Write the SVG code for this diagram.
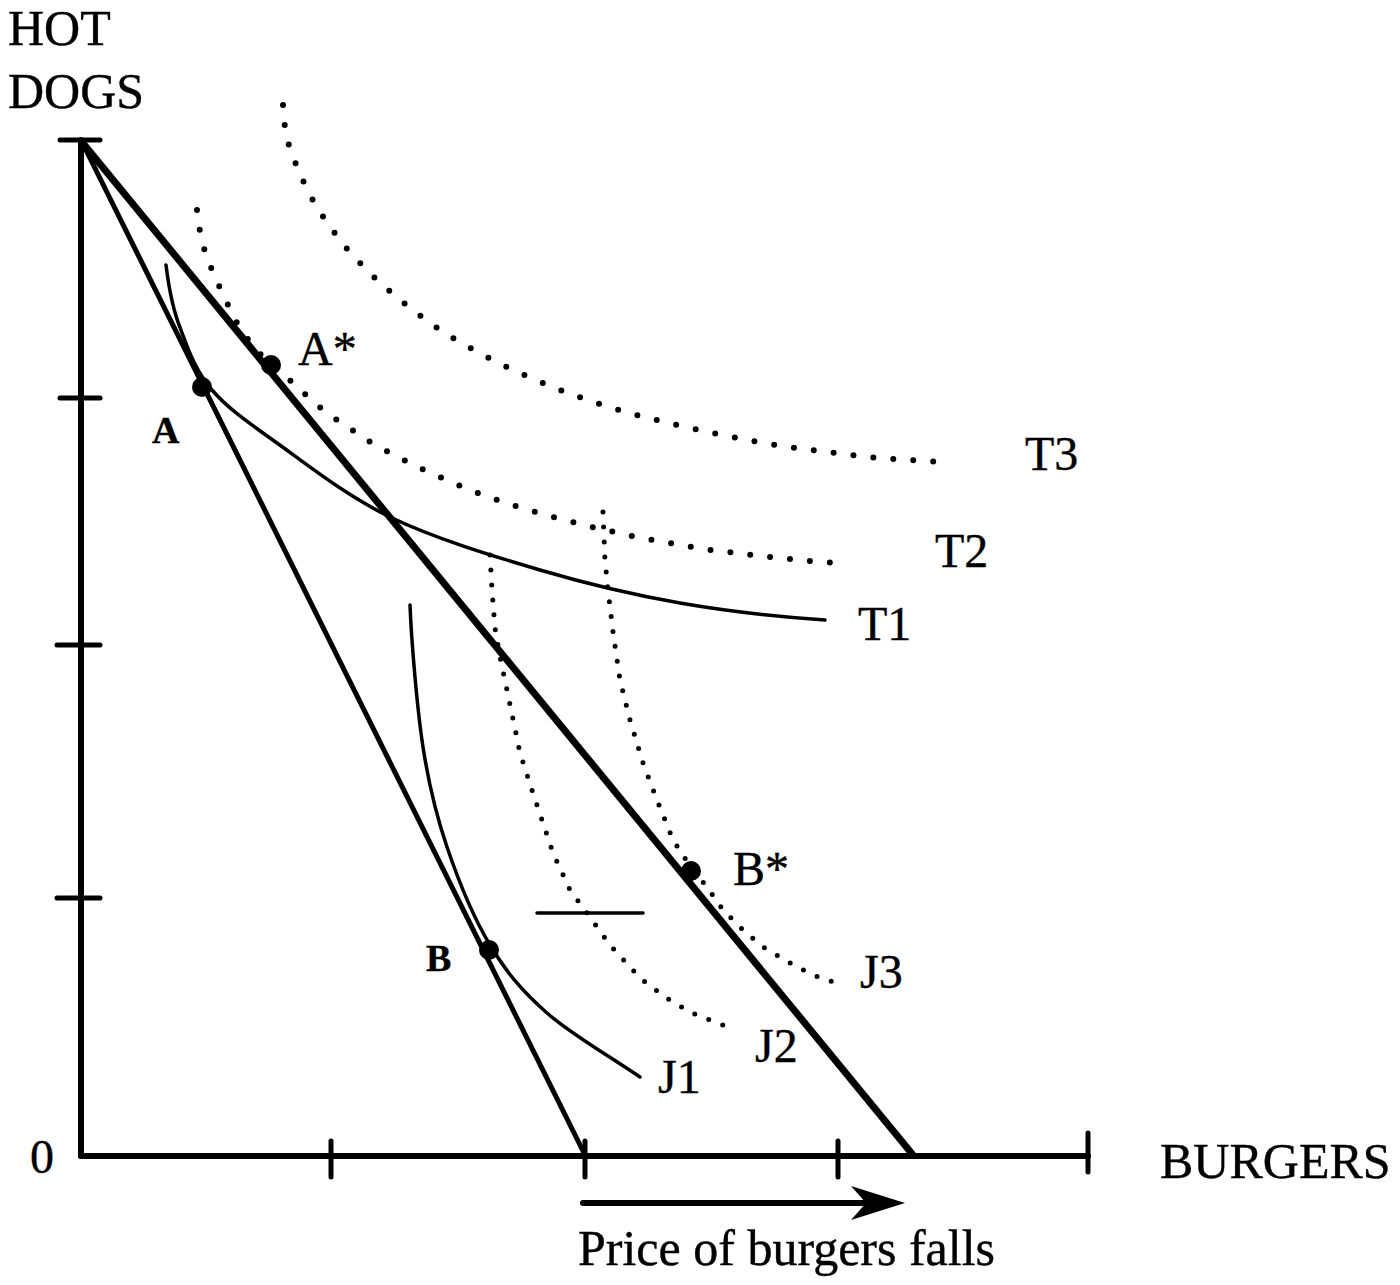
<svg xmlns="http://www.w3.org/2000/svg" width="1400" height="1285" viewBox="0 0 1400 1285">
<style>
  .lbl { font-family: "Liberation Serif", "Times New Roman", serif; font-size: 48px; fill: #000; stroke: #000; stroke-width: 0.4; }
  .big { font-size: 50px; }
  .bold { font-weight: bold; font-size: 38px; }
  .axis { stroke: #000; stroke-width: 6; fill: none; stroke-linecap: round; }
  .tick { stroke: #000; stroke-width: 5; fill: none; stroke-linecap: round; }
  .budget { stroke: #000; fill: none; stroke-linecap: butt; }
  .solid { stroke: #000; stroke-width: 3.5; fill: none; stroke-linecap: round; }
  .dotT { stroke: #000; stroke-width: 6; fill: none; stroke-linecap: round; stroke-dasharray: 0 20; }
  .dotJ { stroke: #000; stroke-width: 5; fill: none; stroke-linecap: round; stroke-dasharray: 0 15; }
  .pt { fill: #000; }
</style>
<defs>
  <marker id="head" markerUnits="userSpaceOnUse" markerWidth="60" markerHeight="40" refX="29" refY="17" orient="auto">
    <path d="M0,0 L54,17 L0,34 L15,17 Z" fill="#000"/>
  </marker>
</defs>
<rect width="1400" height="1285" fill="#fff"/>

<g id="axes">
  <line class="axis" x1="81" y1="140" x2="81" y2="1156"/>
  <line class="axis" x1="81" y1="1156" x2="1088" y2="1156"/>
  <line class="tick" x1="60" y1="140" x2="100" y2="140"/>
  <line class="tick" x1="60" y1="398" x2="100" y2="398"/>
  <line class="tick" x1="57" y1="645" x2="100" y2="645"/>
  <line class="tick" x1="57" y1="898" x2="100" y2="898"/>
  <line class="tick" x1="331" y1="1141" x2="331" y2="1177"/>
  <line class="tick" x1="585" y1="1141" x2="585" y2="1177"/>
  <line class="tick" x1="838" y1="1141" x2="838" y2="1177"/>
  <line class="tick" x1="1088" y1="1133" x2="1088" y2="1172"/>
  <text class="lbl big" x="8" y="45">HOT</text>
  <text class="lbl big" x="8" y="108">DOGS</text>
  <text class="lbl" x="30" y="1173">0</text>
  <text class="lbl big" x="1160" y="1178">BURGERS</text>
</g>

<g id="connectors">
  <line class="budget" stroke-width="5" x1="82" y1="142" x2="585" y2="1155"/>
  <line class="budget" stroke-width="7" x1="82" y1="142" x2="913" y2="1155"/>
  <line class="axis" x1="583" y1="1203" x2="880" y2="1203" marker-end="url(#head)"/>
</g>

<g id="T1">
  <path class="solid" d="M166,265 C168.7,287 172.3,309.2 181,330 C188.7,350.8 195.8,371.2 212,390 C228.2,408.8 247.3,421.8 277,443 C306.7,464.2 346.2,495.8 390,517 C433.8,538.2 491.7,555.7 540,570 C588.3,584.3 632.5,594.7 680,603 C727.5,611.3 776.7,616.7 825,620"/>
  <text class="lbl" x="858" y="640">T1</text>
</g>

<g id="T2">
  <polyline class="dotT" points="197,210 200,232 205,252 212,270 220,288 229,307 238,325 250,342 262,356 276,369 293,383 308,397 323,410 340,422 357,433 373,444 392,454 410,463 428,472 447,480 465,488 483,495 503,502 522,508 542,514 560,519 580,524 600,529 620,533 640,538 660,541 680,545 698,548 718,551 739,553 759,556 779,558 799,560 819,562 840,563"/>
  <text class="lbl" x="935" y="567">T2</text>
</g>

<g id="T3">
  <polyline class="dotT" points="283,105 285,128 290,150 298,169 308,192 327,223 351,254 380,283 411,309 444,333 479,353 515,371 552,387 590,401 629,413 668,423 708,432 747,440 787,447 828,452 868,457 908,460 943,462"/>
  <text class="lbl" x="1025" y="470">T3</text>
</g>

<g id="J1">
  <path class="solid" d="M410,605 C411.3,638.3 416.8,706.7 423,747 C429.2,787.3 435.8,814 447,847 C458.2,880 473.3,917.3 490,945 C506.7,972.7 522,991 547,1013 C572,1035 609,1055.7 640,1077"/>
  <text class="lbl" x="658" y="1093">J1</text>
</g>

<g id="J2">
  <polyline class="dotJ" points="490,555 492,590 495,628 500,657 507,690 520,753 533,793 553,853 570,890 587,913 610,945 640,978 665,997 690,1012 728,1027"/>
  <line class="solid" stroke-width="3" x1="537" y1="913" x2="643" y2="913"/>
  <text class="lbl" x="755" y="1062">J2</text>
</g>

<g id="J3">
  <polyline class="dotJ" points="603,512 605,560 608,590 613,632 620,680 630,720 643,763 657,800 673,840 690,866 707,887 723,910 743,930 763,947 790,963 813,975 842,985"/>
  <text class="lbl" x="860" y="988">J3</text>
</g>

<g id="pointA">
  <circle class="pt" cx="202" cy="387" r="10"/>
  <text class="lbl bold" x="152" y="443">A</text>
</g>
<g id="pointAstar">
  <circle class="pt" cx="271" cy="365" r="10"/>
  <text class="lbl" x="298" y="365">A*</text>
</g>
<g id="pointB">
  <circle class="pt" cx="489" cy="950" r="10"/>
  <text class="lbl bold" x="426" y="971">B</text>
</g>
<g id="pointBstar">
  <circle class="pt" cx="691" cy="871" r="10"/>
  <text class="lbl" x="733" y="885">B*</text>
</g>

<g id="caption">
  <text class="lbl big" x="578" y="1265">Price of burgers falls</text>
</g>
</svg>
